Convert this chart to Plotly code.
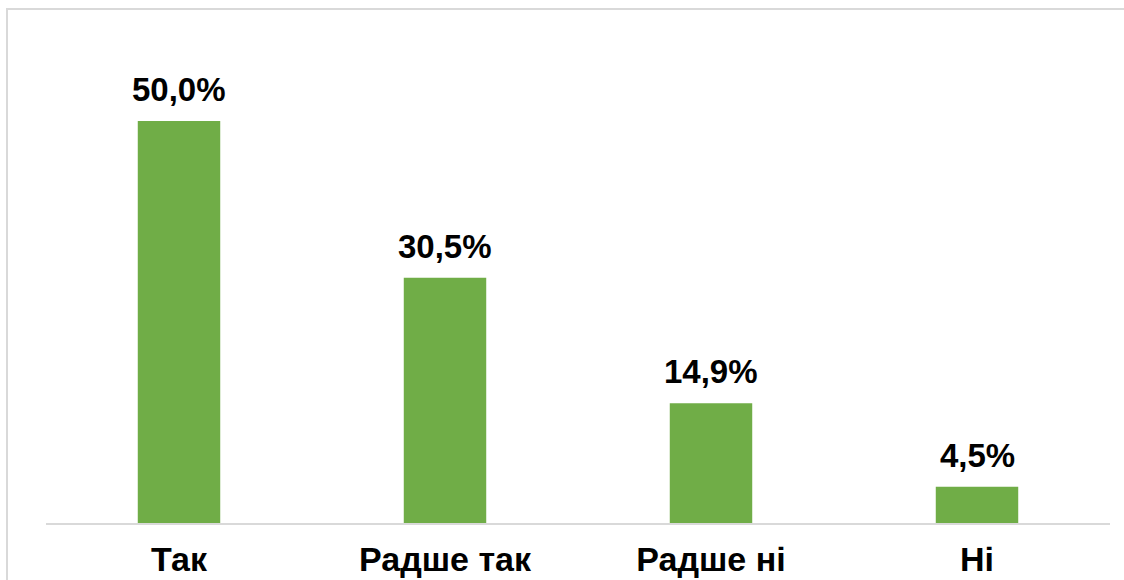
import plotly.graph_objects as go

categories = ["Так", "Радше так", "Радше ні", "Ні"]
values = [50.0, 30.5, 14.9, 4.5]
labels = ["50,0%", "30,5%", "14,9%", "4,5%"]

W, H = 1124, 580
ml, mr, mt, mb = 46, 14, 20, 57
plot_w = W - ml - mr
plot_h = H - mt - mb
ymax = plot_h / 8.04

fig = go.Figure()
fig.add_trace(go.Bar(
    x=categories, y=values,
    marker=dict(color="#70AD47", line=dict(width=0)),
    width=0.31,
    hoverinfo="skip",
))

for c, v, t in zip(categories, values, labels):
    fig.add_annotation(
        x=c, y=v, text=t, showarrow=False,
        yanchor="bottom", yshift=11,
        font=dict(family="Arial, Liberation Sans, sans-serif", size=33, color="#000000", weight="bold"),
    )

# outer chart border (light gray)
def px_x(px):
    return (px - ml) / plot_w

def px_y(py):
    return (H - mb - py) / plot_h

fig.add_shape(type="rect", xref="paper", yref="paper",
              x0=px_x(7), x1=px_x(1200), y0=px_y(650), y1=px_y(9),
              line=dict(color="#d9d9d9", width=2), fillcolor="rgba(0,0,0,0)", layer="below")

fig.update_layout(
    width=W, height=H,
    margin=dict(l=ml, r=mr, t=mt, b=mb),
    paper_bgcolor="white", plot_bgcolor="white",
    showlegend=False,
    font=dict(family="Arial, Liberation Sans, sans-serif", color="#000000"),
    xaxis=dict(
        showline=True, linecolor="#d9d9d9", linewidth=2,
        showgrid=False, ticks="", zeroline=False,
        tickfont=dict(size=34, family="Arial, Liberation Sans, sans-serif", weight="bold"),
        ticklabelstandoff=5,
        automargin=False,
        range=[-0.5, 3.5],
    ),
    yaxis=dict(
        range=[0, ymax], visible=False, showgrid=False, zeroline=False,
        automargin=False,
    ),
)

fig.write_html("out.html")
